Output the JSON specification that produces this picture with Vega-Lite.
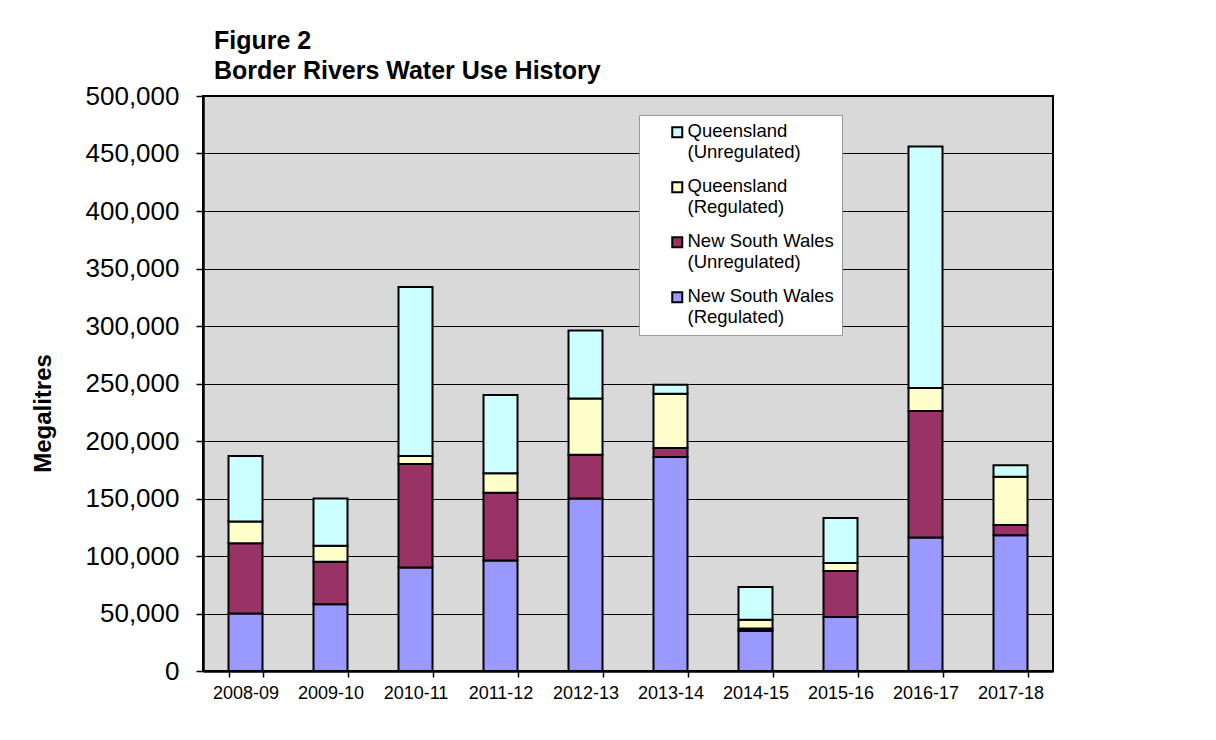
{
  "$schema": "https://vega.github.io/schema/vega-lite/v6.json",
  "autosize": {"type": "none"},
  "width": 850,
  "height": 575,
  "padding": {"left": 203, "top": 96, "right": 163, "bottom": 69},
  "background": "white",
  "title": {
    "text": ["Figure 2", "Border Rivers Water Use History"],
    "anchor": "start",
    "frame": "group",
    "dx": 11,
    "offset": -1,
    "fontSize": 25,
    "fontWeight": "bold",
    "lineHeight": 30,
    "color": "black",
    "font": "Liberation Sans"
  },
  "data": {
    "values": [
      {"year": "2008-09", "series": "New South Wales (Regulated)", "ml": 50000},
      {"year": "2008-09", "series": "New South Wales (Unregulated)", "ml": 61000},
      {"year": "2008-09", "series": "Queensland (Regulated)", "ml": 19000},
      {"year": "2008-09", "series": "Queensland (Unregulated)", "ml": 57000},
      {"year": "2009-10", "series": "New South Wales (Regulated)", "ml": 58000},
      {"year": "2009-10", "series": "New South Wales (Unregulated)", "ml": 37000},
      {"year": "2009-10", "series": "Queensland (Regulated)", "ml": 14000},
      {"year": "2009-10", "series": "Queensland (Unregulated)", "ml": 41000},
      {"year": "2010-11", "series": "New South Wales (Regulated)", "ml": 90000},
      {"year": "2010-11", "series": "New South Wales (Unregulated)", "ml": 90000},
      {"year": "2010-11", "series": "Queensland (Regulated)", "ml": 7000},
      {"year": "2010-11", "series": "Queensland (Unregulated)", "ml": 147000},
      {"year": "2011-12", "series": "New South Wales (Regulated)", "ml": 96000},
      {"year": "2011-12", "series": "New South Wales (Unregulated)", "ml": 59000},
      {"year": "2011-12", "series": "Queensland (Regulated)", "ml": 17000},
      {"year": "2011-12", "series": "Queensland (Unregulated)", "ml": 68000},
      {"year": "2012-13", "series": "New South Wales (Regulated)", "ml": 150000},
      {"year": "2012-13", "series": "New South Wales (Unregulated)", "ml": 38000},
      {"year": "2012-13", "series": "Queensland (Regulated)", "ml": 49000},
      {"year": "2012-13", "series": "Queensland (Unregulated)", "ml": 59000},
      {"year": "2013-14", "series": "New South Wales (Regulated)", "ml": 186000},
      {"year": "2013-14", "series": "New South Wales (Unregulated)", "ml": 8000},
      {"year": "2013-14", "series": "Queensland (Regulated)", "ml": 47000},
      {"year": "2013-14", "series": "Queensland (Unregulated)", "ml": 8000},
      {"year": "2014-15", "series": "New South Wales (Regulated)", "ml": 35000},
      {"year": "2014-15", "series": "New South Wales (Unregulated)", "ml": 2000},
      {"year": "2014-15", "series": "Queensland (Regulated)", "ml": 7500},
      {"year": "2014-15", "series": "Queensland (Unregulated)", "ml": 28500},
      {"year": "2015-16", "series": "New South Wales (Regulated)", "ml": 47000},
      {"year": "2015-16", "series": "New South Wales (Unregulated)", "ml": 40000},
      {"year": "2015-16", "series": "Queensland (Regulated)", "ml": 7000},
      {"year": "2015-16", "series": "Queensland (Unregulated)", "ml": 39000},
      {"year": "2016-17", "series": "New South Wales (Regulated)", "ml": 116000},
      {"year": "2016-17", "series": "New South Wales (Unregulated)", "ml": 110000},
      {"year": "2016-17", "series": "Queensland (Regulated)", "ml": 20000},
      {"year": "2016-17", "series": "Queensland (Unregulated)", "ml": 210000},
      {"year": "2017-18", "series": "New South Wales (Regulated)", "ml": 118000},
      {"year": "2017-18", "series": "New South Wales (Unregulated)", "ml": 9000},
      {"year": "2017-18", "series": "Queensland (Regulated)", "ml": 42000},
      {"year": "2017-18", "series": "Queensland (Unregulated)", "ml": 10000}
    ]
  },
  "mark": {"type": "bar", "stroke": "black", "strokeWidth": 2},
  "encoding": {
    "x": {
      "field": "year",
      "type": "nominal",
      "sort": null,
      "scale": {"paddingInner": 0.6, "paddingOuter": 0.3},
      "axis": {
        "title": null,
        "labelAngle": 0,
        "tickBand": "extent",
        "tickSize": 6,
        "tickColor": "black",
        "tickWidth": 1.5,
        "domainColor": "black",
        "domainWidth": 2.5,
        "labelFontSize": 18,
        "labelColor": "black",
        "labelPadding": 7
      }
    },
    "y": {
      "field": "ml",
      "type": "quantitative",
      "aggregate": "sum",
      "stack": "zero",
      "scale": {"domain": [0, 500000], "nice": false},
      "axis": {
        "title": "Megalitres",
        "values": [0, 50000, 100000, 150000, 200000, 250000, 300000, 350000, 400000, 450000, 500000],
        "format": ",d",
        "labelFontSize": 26,
        "labelColor": "black",
        "labelPadding": 17,
        "tickSize": 7,
        "tickColor": "black",
        "tickWidth": 1.5,
        "domainColor": "black",
        "domainWidth": 2.5,
        "grid": true,
        "gridColor": "black",
        "gridWidth": 1,
        "gridOpacity": 1,
        "titleFontSize": 24,
        "titleFontWeight": "bold",
        "titleColor": "black",
        "titleAngle": -90,
        "titleAlign": "center",
        "titleBaseline": "alphabetic",
        "titleX": -153,
        "titleY": 317
      }
    },
    "color": {
      "field": "series",
      "type": "nominal",
      "scale": {
        "domain": [
          "Queensland (Unregulated)",
          "Queensland (Regulated)",
          "New South Wales (Unregulated)",
          "New South Wales (Regulated)"
        ],
        "range": ["#CCFFFF", "#FFFFCC", "#993366", "#9999FF"]
      },
      "legend": {
        "title": null,
        "orient": "none",
        "legendX": 436,
        "legendY": 19,
        "fillColor": "white",
        "strokeColor": "#9a9a9a",
        "padding": 8,
        "symbolOffset": 21,
        "symbolType": "square",
        "symbolSize": 100,
        "symbolStrokeColor": "black",
        "symbolStrokeWidth": 2,
        "symbolOpacity": 1,
        "labelFontSize": 18.5,
        "labelColor": "black",
        "labelOffset": 1,
        "labelBaseline": "top",
        "labelLimit": 300,
        "rowPadding": 15,
        "labelExpr": "[slice(datum.label, 0, indexof(datum.label, ' (')), slice(datum.label, indexof(datum.label, ' (') + 1)]",
        "encode": {"labels": {"update": {"dy": {"value": -10}}}}
      }
    },
    "order": {"field": "series", "sort": "ascending"}
  },
  "config": {
    "font": "Liberation Sans",
    "view": {"fill": "#D9D9D9", "stroke": "black", "strokeWidth": 2},
    "legend": {"labelLineHeight": 19}
  }
}
